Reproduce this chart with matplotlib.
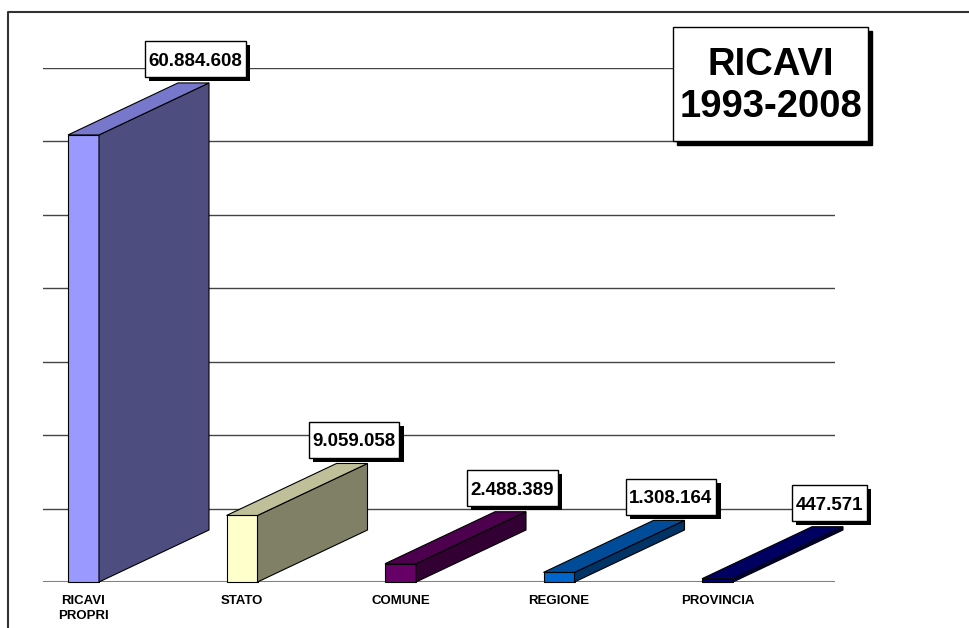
import matplotlib.pyplot as plt
from matplotlib.patches import Polygon, Rectangle
from matplotlib.lines import Line2D
from matplotlib.path import Path
import matplotlib.patheffects as pe

plt.rcParams['font.family'] = ['Liberation Sans', 'DejaVu Sans']

# data
categories = ['RICAVI\nPROPRI', 'STATO', 'COMUNE', 'REGIONE', 'PROVINCIA']
values = [60884608, 9059058, 2488389, 1308164, 447571]
labels = ['60.884.608', '9.059.058', '2.488.389', '1.308.164', '447.571']
front_colors = ['#9999FF', '#FFFFCC', '#660066', '#0066CC', '#000080']
side_colors = ['#4D4D80', '#808066', '#330033', '#003366', '#000040']
top_colors = ['#7777CC', '#BFBF99', '#4D004D', '#004C99', '#000060']

W, H = 969, 628
fig = plt.figure(figsize=(W / 100, H / 100), dpi=100)

# plot area in pixels: gridlines from x=43 to 835, baseline y=582, top y=68
ax = fig.add_axes([43 / W, 1 - 582 / H, (835 - 43) / W, (582 - 68) / H])
ymax = 70e6
ax.set_ylim(0, ymax)
step = 158.5
ax.set_xlim((43 - 83.5) / step, (835 - 83.5) / step)

ax.set_yticks(range(10000000, 70000001, 10000000))
ax.yaxis.grid(True, color='#444444', lw=1)
ax.set_axisbelow(True)
ax.axhline(0, color='#808080', lw=2.2, zorder=1)
ax.tick_params(length=0, labelleft=False, labelbottom=False)
for s in ax.spines.values():
    s.set_visible(False)


def label_box(x0, y0, width, height, mutation_size):
    # wider vertical padding than horizontal, like the excel data labels
    px = 0.2 * mutation_size
    pb, pt = 0.38 * mutation_size, 0.62 * mutation_size
    x0, y0, x1, y1 = x0 - px, y0 - pb, x0 + width + px, y0 + height + pt
    return Path([(x0, y0), (x1, y0), (x1, y1), (x0, y1), (x0, y0)], closed=True)


# 3d look: width and depth offsets
w = 31 / step
dx = 110 / step
dy = 52 / 514 * ymax

for i, v in enumerate(values):
    x0, x1 = i - w / 2, i + w / 2
    ax.add_patch(Rectangle((x0, 0), w, v, fc=front_colors[i], ec='black', lw=0.8, zorder=3, clip_on=False))
    ax.add_patch(Polygon([(x1, 0), (x1 + dx, dy), (x1 + dx, v + dy), (x1, v)],
                         closed=True, fc=side_colors[i], ec='black', lw=0.8, zorder=3, clip_on=False))
    ax.add_patch(Polygon([(x0, v), (x1, v), (x1 + dx, v + dy), (x0 + dx, v + dy)],
                         closed=True, fc=top_colors[i], ec='black', lw=0.8, zorder=3, clip_on=False))

    # value label with shadow
    t = ax.annotate(labels[i], (i + dx, v + dy), xytext=(2, 13), textcoords='offset pixels',
                    ha='center', va='bottom', fontsize=13.5, fontweight='bold', color='black',
                    bbox=dict(boxstyle=label_box, fc='white', ec='black', lw=1),
                    zorder=6, annotation_clip=False)
    t.get_bbox_patch().set_path_effects([
        pe.SimplePatchShadow(offset=(3, -3), shadow_rgbFace='black', alpha=1), pe.Normal()])

    # category label
    ax.annotate(categories[i], (i, 0), xytext=(0, -13), textcoords='offset pixels',
                ha='center', va='top', fontsize=9.5, fontweight='bold',
                linespacing=1.3, annotation_clip=False)

# title box with shadow
bx, by, bw, bh = 673, 27, 195, 114
fig.patches.append(Rectangle(((bx + 4) / W, 1 - (by + bh + 4) / H), bw / W, bh / H,
                             transform=fig.transFigure, fc='black', ec='black', zorder=7))
fig.patches.append(Rectangle((bx / W, 1 - (by + bh) / H), bw / W, bh / H,
                             transform=fig.transFigure, fc='white', ec='black', lw=1, zorder=8))
fig.text((bx + bw / 2) / W, 1 - (by + bh / 2 + 2) / H, 'RICAVI\n1993-2008', ha='center', va='center',
         fontsize=27.5, fontweight='bold', linespacing=1.22, zorder=9)

# outer frame (left and top edges)
fig.lines.append(Line2D([8 / W, 8 / W, 1], [0, 1 - 12 / H, 1 - 12 / H],
                        transform=fig.transFigure, color='#333333', lw=1.5))

fig.savefig('out.png', dpi=100)
